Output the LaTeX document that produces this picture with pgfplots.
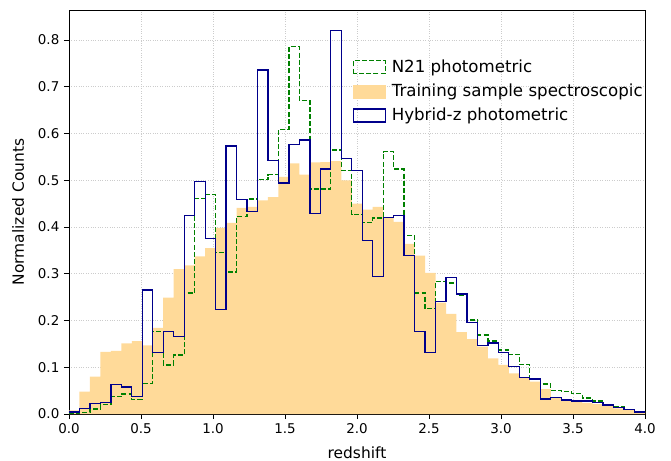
\documentclass[border=0pt]{standalone}
\usepackage{pgfplots}
\usepackage{pgfplotstable}
\pgfplotsset{compat=1.18}
\usepackage{fontspec}
\setmainfont{DejaVu Sans}
\definecolor{specfill}{RGB}{255,218,153}
\definecolor{nblue}{RGB}{0,0,139}
\definecolor{ngreen}{RGB}{0,128,0}

\pgfplotstableread{
x n21 spec hyb
0.0000 0.001 0.008 0.004
0.0727 0.003 0.048 0.012
0.1455 0.011 0.080 0.023
0.2182 0.021 0.133 0.025
0.2909 0.037 0.135 0.063
0.3636 0.043 0.151 0.058
0.4364 0.031 0.156 0.038
0.5091 0.065 0.147 0.265
0.5818 0.176 0.184 0.132
0.6545 0.105 0.249 0.176
0.7273 0.126 0.310 0.166
0.8000 0.259 0.318 0.424
0.8727 0.461 0.337 0.497
0.9455 0.469 0.355 0.375
1.0182 0.345 0.398 0.223
1.0909 0.304 0.409 0.573
1.1636 0.423 0.441 0.459
1.2364 0.460 0.443 0.433
1.3091 0.501 0.457 0.736
1.3818 0.512 0.464 0.543
1.4545 0.609 0.507 0.494
1.5273 0.786 0.536 0.577
1.6000 0.670 0.512 0.586
1.6727 0.481 0.538 0.429
1.7455 0.481 0.539 0.524
1.8182 0.565 0.541 0.821
1.8909 0.521 0.500 0.547
1.9636 0.427 0.450 0.521
2.0364 0.409 0.437 0.371
2.1091 0.419 0.443 0.294
2.1818 0.561 0.419 0.421
2.2545 0.524 0.411 0.424
2.3273 0.382 0.364 0.339
2.4000 0.259 0.339 0.176
2.4727 0.225 0.302 0.131
2.5455 0.283 0.238 0.241
2.6182 0.280 0.214 0.292
2.6909 0.254 0.175 0.257
2.7636 0.201 0.160 0.196
2.8364 0.169 0.144 0.146
2.9091 0.156 0.119 0.152
2.9818 0.137 0.105 0.132
3.0545 0.128 0.087 0.101
3.1273 0.106 0.077 0.078
3.2000 0.075 0.069 0.075
3.2727 0.064 0.053 0.032
3.3455 0.051 0.034 0.036
3.4182 0.048 0.031 0.030
3.4909 0.044 0.026 0.028
3.5636 0.034 0.024 0.028
3.6364 0.028 0.021 0.024
3.7091 0.021 0.018 0.019
3.7818 0.016 0.012 0.014
3.8545 0.009 0.010 0.009
3.9273 0.005 0.005 0.004
4.0000 0.005 0.005 0.004
}\histdata

\begin{document}
\fontsize{13.5}{16}\selectfont
\begin{tikzpicture}
\useasboundingbox (-69bp,-47bp) rectangle (602bp,414bp);
\begin{axis}[
  at={(0,0)}, anchor=origin,
  scale only axis,
  width=576bp, height=404bp,
  xmin=0, xmax=4, ymin=0, ymax=0.8642,
  xtick={0,0.5,...,4},
  ytick={0,0.1,...,0.8},
  xticklabel style={/pgf/number format/.cd, fixed, fixed zerofill, precision=1},
  yticklabel style={/pgf/number format/.cd, fixed, fixed zerofill, precision=1},
  /pgf/number format/assume math mode=true,
  tick label style={font=\fontsize{13.5}{16}\selectfont},
  label style={font=\fontsize{15.5}{18}\selectfont},
  xlabel style={at={(0.5,-0.0965)}, anchor=center},
  ylabel style={at={(-0.0885,0.5)}, anchor=center},
  tick pos=left,
  tick align=outside,
  major tick length=5bp,
  every tick/.style={black, line width=0.8bp},
  axis line style={line width=0.8bp},
  grid=major,
  grid style={dotted, line width=0.7bp, gray!40},
  xlabel={redshift},
  ylabel={Normalized Counts},
  legend style={at={(0.487,0.887)}, anchor=north west, draw=none, fill=none,
    font=\fontsize{16.7}{19}\selectfont, row sep=5.5bp,
    /tikz/every odd column/.append style={column sep=4bp}},
  legend cell align=left,
]
\addplot[const plot mark left, fill=specfill, draw=none, forget plot] table[x=x,y=spec]{\histdata} \closedcycle;
\addplot[const plot mark left, ngreen, line width=1.3bp, dash pattern=on 5bp off 2.2bp, forget plot] table[x=x,y=n21]{\histdata};
\addplot[const plot mark left, nblue, line width=1.3bp, forget plot] table[x=x,y=hyb]{\histdata};
\addlegendimage{legend image code/.code={\draw[ngreen, line width=1.1bp, dash pattern=on 5bp off 2.2bp] (0bp,-6.5bp) rectangle (32bp,6.5bp);}}
\addlegendentry{N21 photometric}
\addlegendimage{legend image code/.code={\fill[specfill] (0bp,-6.5bp) rectangle (32bp,6.5bp);}}
\addlegendentry{Training sample spectroscopic}
\addlegendimage{legend image code/.code={\draw[nblue, line width=1.1bp] (0bp,-6.5bp) rectangle (32bp,6.5bp);}}
\addlegendentry{Hybrid-z photometric}
\end{axis}
\end{tikzpicture}
\end{document}
